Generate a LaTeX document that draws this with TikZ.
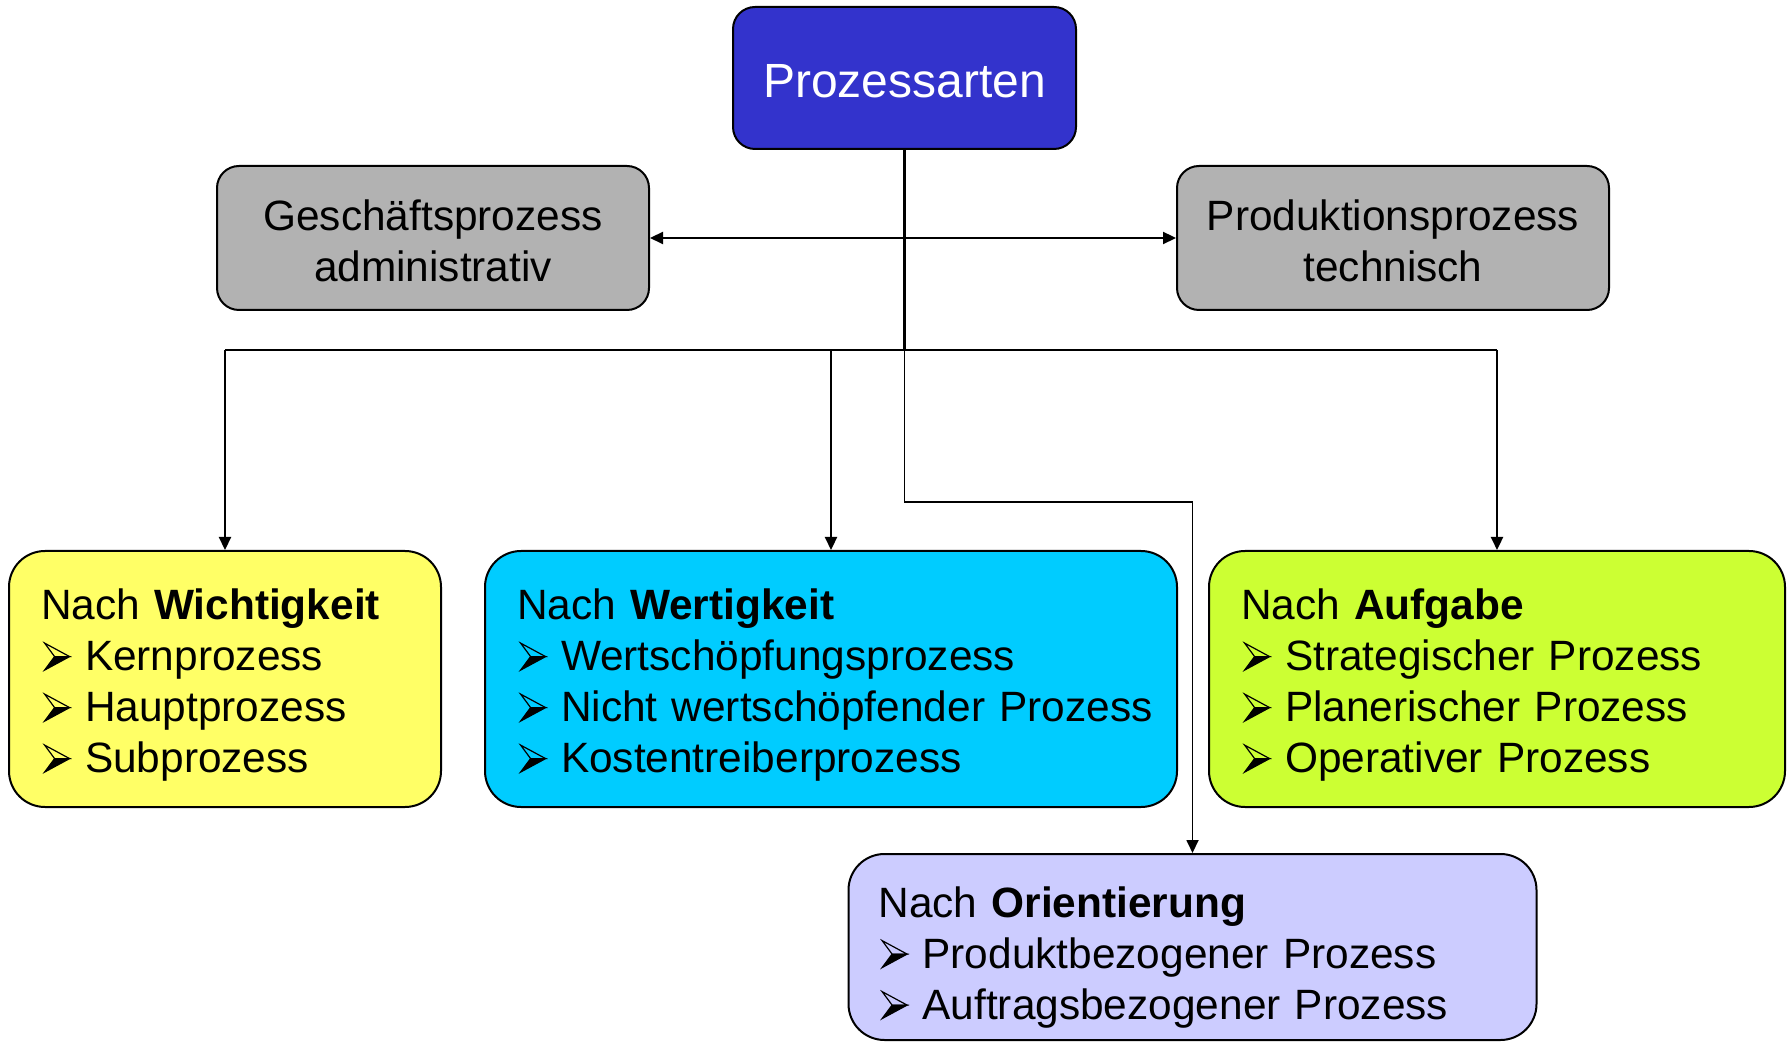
\documentclass[tikz,border=0pt]{standalone}
\usepackage{fontspec}
\setmainfont{Liberation Sans}
\usetikzlibrary{arrows.meta}
\definecolor{cblue}{HTML}{3333CC}
\definecolor{cgrey}{HTML}{B2B2B2}
\definecolor{cyel}{HTML}{FFFF66}
\definecolor{ccyan}{HTML}{00CCFF}
\definecolor{cgreen}{HTML}{CCFF33}
\definecolor{clav}{HTML}{CCCCFF}
\newsavebox{\bulbox}
\newcommand{\bul}{\makebox[22pt][l]{\hspace{1.5pt}\usebox{\bulbox}}}
\tikzset{
  topbox/.style={draw, line width=1pt, rounded corners=11pt, align=center, inner sep=0pt,
    font=\fontsize{21.2pt}{25.5pt}\selectfont},
  listbox/.style={draw, line width=1pt, rounded corners=18pt, align=left, inner ysep=0pt,
    inner xsep=16pt, font=\fontsize{21.2pt}{25.5pt}\selectfont},
  conn/.style={line width=1.1pt},
  trunk/.style={line width=1.5pt},
  thinconn/.style={line width=0.9pt},
  tip/.tip={Triangle[length=6.5pt,width=6pt]}
}
\begin{document}
\sbox{\bulbox}{\begin{pgfpicture}
  \pgfsetmiterjoin
  \pgfsetlinewidth{0.6pt}
  \pgfpathmoveto{\pgfpoint{0pt}{0pt}}
  \pgfpathlineto{\pgfpoint{12.5pt}{6.75pt}}
  \pgfpathlineto{\pgfpoint{5pt}{6.75pt}}
  \pgfpathclose
  \pgfusepath{fill,stroke}
  \pgfpathmoveto{\pgfpoint{0pt}{13.5pt}}
  \pgfpathlineto{\pgfpoint{12.5pt}{6.75pt}}
  \pgfpathlineto{\pgfpoint{5pt}{6.75pt}}
  \pgfpathclose
  \pgfusepath{stroke}
\end{pgfpicture}}
\begin{tikzpicture}[x=0.5pt,y=-0.5pt]
\useasboundingbox (0,0) rectangle (1788,1042);
% top
\node[topbox, fill=cblue, text=white, minimum width=171.5pt, minimum height=71pt,
  font=\fontsize{24pt}{28pt}\selectfont] (top) at (904.5,78) {\rule{0pt}{20pt}Prozessarten};
\node[topbox, fill=cgrey, minimum width=216pt, minimum height=72pt] (gesch) at (433,238)
  {\rule{0pt}{18pt}Geschäftsprozess\\administrativ};
\node[topbox, fill=cgrey, minimum width=216pt, minimum height=72pt] (prod) at (1393,238)
  {\rule{0pt}{18pt}Produktionsprozess\\technisch};
% list boxes
\node[listbox, fill=cyel, text width=184pt, minimum height=128pt] (wich) at (225,679)
  {\rule{0pt}{21.6pt}Nach \textbf{Wichtigkeit}\\\bul Kernprozess\\\bul Hauptprozess\\\bul Subprozess};
\node[listbox, fill=ccyan, text width=314pt, minimum height=128pt] (wert) at (831,679)
  {\rule{0pt}{21.6pt}Nach \textbf{Wertigkeit}\\\bul Wertschöpfungsprozess\\\mbox{\bul Nicht wertschöpfender Prozess}\\\bul Kostentreiberprozess};
\node[listbox, fill=cgreen, text width=256pt, minimum height=128pt] (aufg) at (1497,679)
  {\rule{0pt}{21.6pt}Nach \textbf{Aufgabe}\\\bul Strategischer Prozess\\\bul Planerischer Prozess\\\bul Operativer Prozess};
\node[listbox, fill=clav, text width=314pt, minimum height=93pt, inner xsep=15pt] (orie) at (1192.5,947)
  {\rule{0pt}{25.6pt}Nach \textbf{Orientierung}\\\bul Produktbezogener Prozess\\\bul Auftragsbezogener Prozess};
% connectors
\coordinate (j) at (904.5,350);
\draw[trunk] (top.south) -- (j);
\draw[conn, tip-tip] (gesch.east) -- (prod.west);
\draw[conn] (wich.north |- j) -- (aufg.north |- j);
\draw[conn, -tip] (wich.north |- j) -- (wich.north);
\draw[conn, -tip] (wert.north |- j) -- (wert.north);
\draw[conn, -tip] (aufg.north |- j) -- (aufg.north);
\draw[thinconn, -tip] (j) -- ++(0,152) -| (orie.north);
\end{tikzpicture}
\end{document}
